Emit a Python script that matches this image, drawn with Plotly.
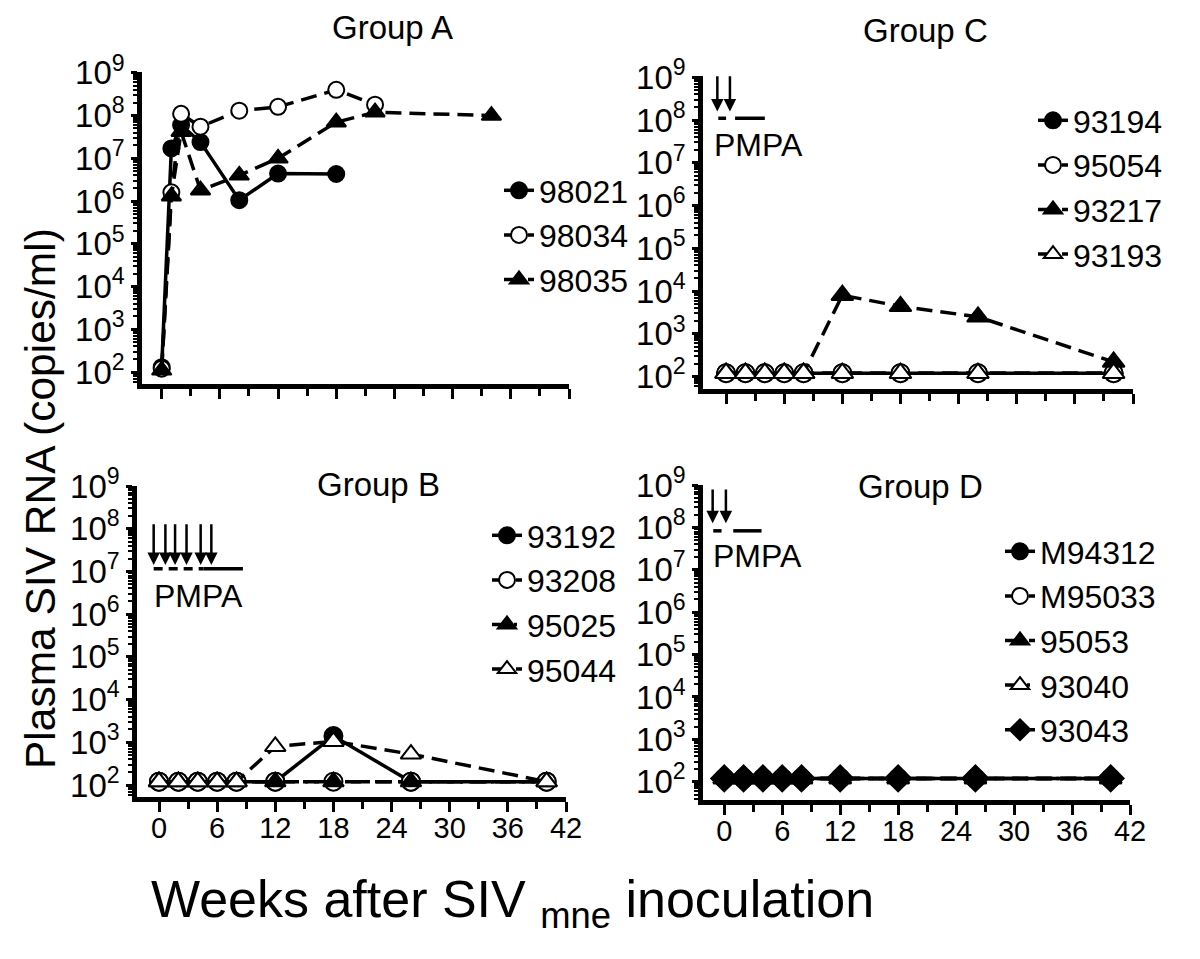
import plotly.graph_objects as go

W, H = 1200, 959
OX, OY = 8, 8   # page body margin of the rendered html
FONT = "Liberation Sans, Arial, Helvetica, sans-serif"

# ---------------- data (weeks after inoculation, copies/ml) ----------------
wk_A_98021 = [0, 1, 2, 4, 8, 12, 18]
A_98021 = [130, 1.7e7, 6.0e7, 2.4e7, 1.05e6, 4.4e6, 4.3e6]
wk_A_98034 = [0, 1, 2, 4, 8, 12, 18, 22]
A_98034 = [120, 1.6e6, 1.1e8, 5.5e7, 1.3e8, 1.6e8, 4.0e8, 1.8e8]
wk_A_98035 = [0, 1, 2, 4, 8, 12, 18, 22, 34]
A_98035 = [110, 1.3e6, 4.2e7, 1.8e6, 4.0e6, 1.0e7, 7.0e7, 1.2e8, 1.0e8]

wk_C = [0, 2, 4, 6, 8, 12, 18, 26, 40]
C_93194 = [120, 120, 120, 120, 120, 120, 120, 120, 120]
C_95054 = [120, 120, 120, 120, 120, 120, 120, 120, 120]
C_93217 = [120, 120, 120, 120, 120, 8.0e3, 4.4e3, 2.5e3, 2.2e2]
C_93193 = [120, 120, 120, 120, 120, 120, 120, 120, 120]

wk_B = [0, 2, 4, 6, 8, 12, 18, 26, 40]
B_93192 = [120, 120, 120, 120, 120, 120, 1.4e3, 120, 120]
B_93208 = [120, 120, 120, 120, 120, 120, 120, 120, 120]
B_95025 = [120, 120, 120, 120, 120, 120, 120, 120, 120]
B_95044 = [120, 120, 120, 120, 120, 8.0e2, 1.05e3, 5.3e2, 120]

wk_D = [0, 2, 4, 6, 8, 12, 18, 26, 40]
D_M94312 = [120, 120, 120, 120, 120, 120, 120, 120, 120]
D_M95033 = [120, 120, 120, 120, 120, 120, 120, 120, 120]
D_95053 = [120, 120, 120, 120, 120, 120, 120, 120, 120]
D_93040 = [120, 120, 120, 120, 120, 120, 120, 120, 120]
D_93043 = [120, 120, 120, 120, 120, 120, 120, 120, 120]

# PMPA dosing (arrow weeks) for groups B, C, D
pmpa_B = [-0.55, 0.66, 1.66, 2.84, 4.3, 5.4]
pmpa_C = [-0.9, 0.4]
pmpa_D = [-1.2, 0.17]

ytick_vals = [1e2, 1e3, 1e4, 1e5, 1e6, 1e7, 1e8, 1e9]
ytick_text = ["10<sup>2</sup>", "10<sup>3</sup>", "10<sup>4</sup>", "10<sup>5</sup>",
              "10<sup>6</sup>", "10<sup>7</sup>", "10<sup>8</sup>", "10<sup>9</sup>"]
xtick_vals = [0, 6, 12, 18, 24, 30, 36, 42]


def fx(p):
    return (p - OX) / W


def fy(p):
    return 1 - (p - OY) / H


# ---------------- panel geometry (pixels) ----------------
panels = {
    "A": dict(ax="", xd=(142, 569), yd=(384, 72), xr=(-2.03, 42), yr=(1.72, 9.02), lab=False),
    "C": dict(ax="2", xd=(703, 1133), yd=(389, 76), xr=(-2.38, 42), yr=(1.71, 9.03), lab=False),
    "B": dict(ax="3", xd=(137, 566), yd=(797, 486), xr=(-2.27, 42), yr=(1.72, 9.00), lab=True),
    "D": dict(ax="4", xd=(703, 1130), yd=(800, 485), xr=(-2.20, 42), yr=(1.57, 9.00), lab=True),
}

DASH = "16px,8px"
DASHDOT = "16px,6px,3px,6px"


def style(sym, filled, dash, size):
    return dict(sym=sym, filled=filled, dash=dash, size=size)


series = [
    ("A", "98021", wk_A_98021, A_98021, style("circle", True, "solid", 16)),
    ("A", "98034", wk_A_98034, A_98034, style("circle", False, DASH, 16)),
    ("A", "98035", wk_A_98035, A_98035, style("triangle-up", True, DASH, 17)),
    ("C", "93194", wk_C, C_93194, style("circle", True, "solid", 18)),
    ("C", "95054", wk_C, C_95054, style("circle", False, DASH, 18)),
    ("C", "93217", wk_C, C_93217, style("triangle-up", True, DASH, 19)),
    ("C", "93193", wk_C, C_93193, style("triangle-up", False, DASH, 19)),
    ("B", "93192", wk_B, B_93192, style("circle", True, "solid", 18)),
    ("B", "93208", wk_B, B_93208, style("circle", False, DASH, 18)),
    ("B", "95025", wk_B, B_95025, style("triangle-up", True, DASHDOT, 18)),
    ("B", "95044", wk_B, B_95044, style("triangle-up", False, DASH, 18)),
    ("D", "M94312", wk_D, D_M94312, style("circle", True, "solid", 18)),
    ("D", "M95033", wk_D, D_M95033, style("circle", False, DASH, 18)),
    ("D", "95053", wk_D, D_95053, style("triangle-up", True, DASH, 19)),
    ("D", "93040", wk_D, D_93040, style("triangle-up", False, DASHDOT, 19)),
    ("D", "93043", wk_D, D_93043, style("diamond", True, DASH, 20)),
]

legend_of = {"A": "legend", "C": "legend2", "B": "legend3", "D": "legend4"}

fig = go.Figure()
for panel, name, xs, ys, st in series:
    p = panels[panel]
    fig.add_trace(go.Scatter(
        x=xs, y=ys, name=name, mode="lines+markers",
        xaxis="x" + p["ax"], yaxis="y" + p["ax"],
        legend=legend_of[panel],
        line=dict(color="black", width=3.5, dash=st["dash"]),
        marker=dict(symbol=st["sym"], size=st["size"],
                    color="black" if st["filled"] else "white",
                    line=dict(color="black", width=2)),
        cliponaxis=False,
    ))

layout = dict(
    width=W, height=H, margin=dict(l=0, r=0, t=0, b=0, pad=0, autoexpand=False),
    paper_bgcolor="white", plot_bgcolor="white",
    font=dict(family=FONT, color="black"),
    showlegend=True,
)

for key, p in panels.items():
    a = p["ax"]
    layout["xaxis" + a] = dict(
        domain=[fx(p["xd"][0]), fx(p["xd"][1])], range=list(p["xr"]),
        anchor="y" + a, showgrid=False, zeroline=False, automargin=False,
        showline=True, linecolor="black", linewidth=4.5,
        tickmode="array", tickvals=xtick_vals,
        ticks="outside", ticklen=10, tickwidth=3, tickcolor="black",
        minor=dict(dtick=3, tick0=0, ticks="outside", ticklen=7, tickwidth=3, tickcolor="black"),
        showticklabels=p["lab"], ticklabelstandoff=-9,
        tickfont=dict(size=29, family=FONT, color="black"),
    )
    layout["yaxis" + a] = dict(
        domain=[fy(p["yd"][0]), fy(p["yd"][1])], range=list(p["yr"]),
        type="log", anchor="x" + a, showgrid=False, zeroline=False, automargin=False,
        showline=True, linecolor="black", linewidth=4.5,
        tickmode="array", tickvals=ytick_vals, ticktext=ytick_text,
        ticks="outside", ticklen=6, tickwidth=3, tickcolor="black",
        minor=dict(dtick="D1", ticks="outside", ticklen=4, tickwidth=2, tickcolor="black"),
        tickfont=dict(size=33, family=FONT, color="black"),
    )

legend_pos = {"legend": (499, 163), "legend2": (1033, 93), "legend3": (487, 508), "legend4": (1000, 524)}
for lg, (lx, ly) in legend_pos.items():
    layout[lg] = dict(x=fx(lx), y=fy(ly), xanchor="left", yanchor="top",
                      bgcolor="rgba(0,0,0,0)", borderwidth=0,
                      font=dict(size=32, family=FONT, color="black"))

fig.update_layout(**layout)

# ---------------- annotations ----------------
ann = []
for txt, cx, cy in [("Group A", 392, 28), ("Group C", 925, 31), ("Group B", 378, 484), ("Group D", 920, 486)]:
    ann.append(dict(text=txt, x=fx(cx), y=fy(cy), xref="paper", yref="paper",
                    xanchor="center", yanchor="middle", showarrow=False,
                    font=dict(size=33, family=FONT, color="black")))

ann.append(dict(text="Plasma SIV RNA (copies/ml)", x=fx(40), y=fy(499), xref="paper", yref="paper",
                textangle=-90, xanchor="center", yanchor="middle", showarrow=False,
                font=dict(size=42.5, family=FONT, color="black")))
ann.append(dict(text="Weeks after SIV <sub>mne</sub> inoculation", x=fx(512), y=fy(903),
                xref="paper", yref="paper", xanchor="center", yanchor="middle", showarrow=False,
                font=dict(size=52, family=FONT, color="black")))

shapes = []


def pmpa(ax, weeks, top, tip, line_y, dash_seg, solid_seg, text_x, text_y):
    for w in weeks:
        ann.append(dict(x=w, y=tip, ax=w, ay=top, xref="x" + ax, yref="y" + ax,
                        axref="x" + ax, ayref="y" + ax, text="", showarrow=True,
                        arrowhead=2, arrowsize=1, arrowwidth=2.5, arrowcolor="black"))
    shapes.append(dict(type="line", xref="x" + ax, yref="y" + ax, x0=dash_seg[0], x1=dash_seg[1],
                       y0=line_y, y1=line_y, line=dict(color="black", width=3.5, dash="9px,6px")))
    shapes.append(dict(type="line", xref="x" + ax, yref="y" + ax, x0=solid_seg[0], x1=solid_seg[1],
                       y0=line_y, y1=line_y, line=dict(color="black", width=3.5)))
    ann.append(dict(text="PMPA", x=text_x, y=text_y, xref="x" + ax, yref="y" + ax,
                    xanchor="left", yanchor="middle", showarrow=False,
                    font=dict(size=32, family=FONT, color="black")))


pmpa("2", pmpa_C, 9.06, 8.2, 1.1e8, (-0.8, 0.0), (0.93, 4.0), -1.48, 7.42)
pmpa("3", pmpa_B, 8.14, 7.15, 1.15e7, (-0.55, 4.6), (4.6, 8.66), -0.73, 6.42)
pmpa("4", pmpa_D, 8.93, 8.1, 8.3e7, (-1.14, -0.28), (0.93, 3.86), -1.38, 7.33)

fig.update_layout(annotations=ann, shapes=shapes)
fig.write_html("out.html")
